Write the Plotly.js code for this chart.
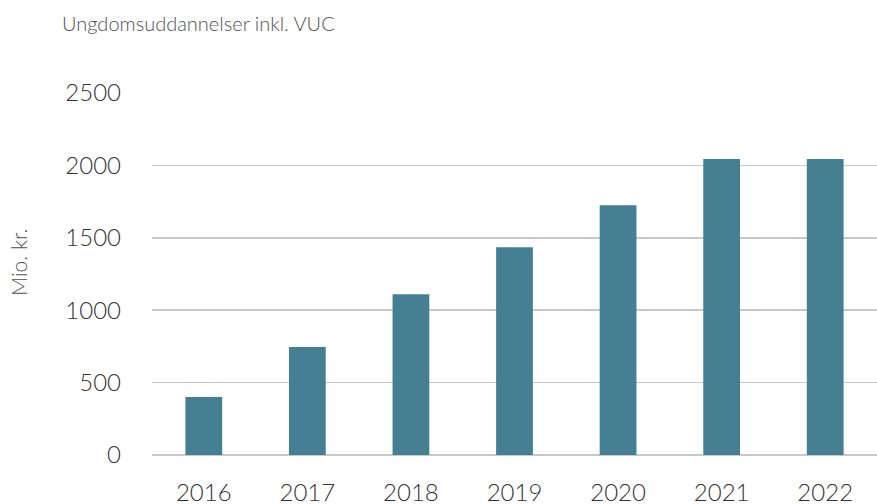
<!DOCTYPE html>
<html>
<head>
<meta charset="utf-8">
<script src="https://cdn.plot.ly/plotly-3.0.1.min.js"></script>
<style>html,body{margin:0;padding:0;background:#fff}#chart{width:877px;height:504px}</style>
</head>
<body>
<div id="chart"></div>
<script>
const years = ['2016','2017','2018','2019','2020','2021','2022'];
const values = [400, 745, 1110, 1435, 1725, 2045, 2045];
const yTicks = [0, 500, 1000, 1500, 2000, 2500];
const chartTitle = 'Ungdomsuddannelser inkl. VUC';
const yTitle = 'Mio. kr.';

const fontFam = 'Lato, "Open Sans", sans-serif';
Plotly.newPlot('chart', [{
  type: 'bar',
  x: years,
  y: values,
  marker: {color: '#457f93'},
  hoverinfo: 'x+y'
}], {
  width: 877, height: 504,
  margin: {l: 152, r: 0, t: 93, b: 49},
  paper_bgcolor: '#fff', plot_bgcolor: '#fff',
  bargap: 0.645,
  showlegend: false,
  font: {family: fontFam, color: '#333333', weight: 300},
  title: {text: chartTitle, x: 62/877, xref: 'container', xanchor: 'left',
          y: 1 - 24/504, yref: 'container', yanchor: 'middle',
          font: {size: 20, color: '#505050', family: fontFam, weight: 300}},
  annotations: [{
    text: yTitle, textangle: -90, showarrow: false,
    xref: 'paper', yref: 'paper',
    x: (18 - 152) / 725, y: (455 - 263) / 362,
    xanchor: 'center', yanchor: 'middle',
    font: {size: 21, color: '#505050', family: fontFam, weight: 300}
  }],
  xaxis: {
    type: 'category',
    tickfont: {size: 24, color: '#333333', family: fontFam, weight: 300},
    ticks: 'outside', ticklen: 16, tickcolor: 'rgba(0,0,0,0)',
    showgrid: false, zeroline: false, showline: false
  },
  yaxis: {
    range: [0, 2500],
    tickvals: yTicks,
    tickfont: {size: 24, color: '#333333', family: fontFam, weight: 300},
    ticklabelstandoff: 30,
    showgrid: true, gridcolor: '#c8c8c8', gridwidth: 1.5,
    zeroline: true, zerolinecolor: '#c8c8c8', zerolinewidth: 1.5,
    showline: false
  }
}, {displayModeBar: false, staticPlot: true});
</script>
</body>
</html>
